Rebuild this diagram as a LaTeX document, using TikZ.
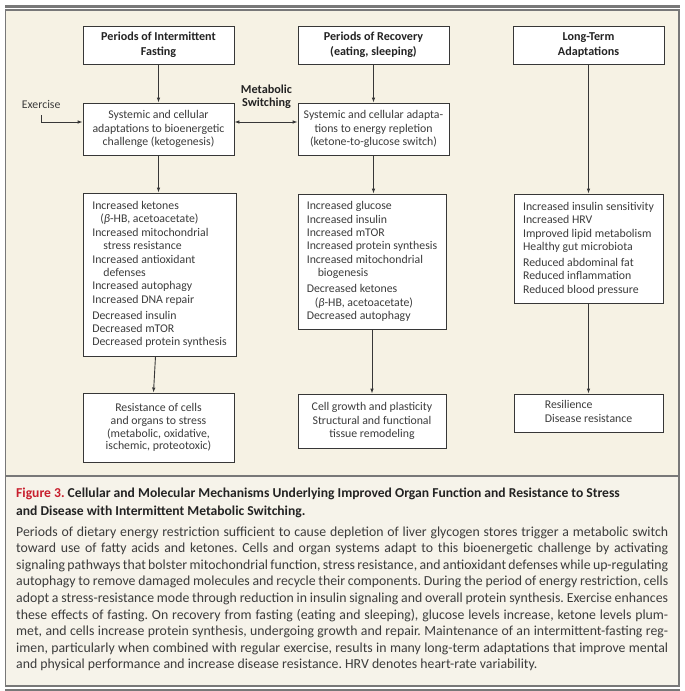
\documentclass[tikz,border=0pt]{standalone}
\usepackage{fontspec}
\setmainfont{Carlito}
\usetikzlibrary{arrows.meta}
\definecolor{beigebg}{RGB}{246,242,228}
\definecolor{capbg}{RGB}{246,243,234}
\definecolor{framec}{RGB}{120,120,120}
\definecolor{boxc}{RGB}{55,55,55}
\definecolor{txtc}{RGB}{60,60,60}
\definecolor{titc}{RGB}{35,35,35}
\definecolor{figred}{RGB}{200,30,45}
\newcommand{\myreg}{\fontsize{11.8}{13.4}\selectfont}
\newcommand{\mybold}{\fontsize{12.1}{14.6}\selectfont\bfseries}
\newcommand{\mybody}{\frenchspacing\fontsize{13.8}{16.6}\selectfont}
\newcommand{\mytitle}{\frenchspacing\fontsize{13.6}{18}\selectfont\bfseries}
\newcommand{\ind}{\hspace*{11pt}}
\newcommand{\pind}{\hspace*{8pt}}
\begin{document}
\begin{tikzpicture}[x=1pt,y=-1pt,
  box/.style={draw=boxc, line width=0.9pt, fill=white, inner sep=0pt, text=txtc, font=\myreg, align=center},
  headbox/.style={box, font=\mybold, text=titc},
  listbox/.style={box, align=left},
  arr/.style={draw=boxc, line width=0.9pt, -{Latex[length=5pt,width=3.6pt]}},
  darr/.style={draw=boxc, line width=0.9pt, {Latex[length=5pt,width=3.6pt]}-{Latex[length=5pt,width=3.6pt]}},
  capline/.style={anchor=base west, inner sep=0pt, text=txtc, font=\mybody}
]
\useasboundingbox (0,0) rectangle (685,691);
% frame
\draw[framec, line width=2.2pt] (5,6.5) -- (680,6.5);
\fill[beigebg] (5.5,10) rectangle (679,476);
\fill[capbg] (5.5,476) rectangle (679,686);
\draw[framec, line width=1.4pt] (5.5,10) rectangle (679,686);
\draw[framec, line width=1.4pt] (5.5,476) -- (679,476);
\draw[framec, line width=2.2pt] (5,690) -- (680,690);

% header boxes
\node[headbox, minimum width=151pt, minimum height=38pt] (a1) at (158.5,45) {Periods of Intermittent\\Fasting};
\node[headbox, minimum width=151pt, minimum height=38pt] (b1) at (373.5,45) {Periods of Recovery\\(eating, sleeping)};
\node[headbox, minimum width=151pt, minimum height=38pt] (c1) at (588.5,45) {Long-Term\\Adaptations};

% second row
\node[box, minimum width=151pt, minimum height=52pt] (a2) at (158.5,129) {Systemic and cellular\\adaptations to bioenergetic\\challenge (ketogenesis)};
\node[box, minimum width=151pt, minimum height=52pt] (b2) at (373.5,129) {Systemic and cellular adapta-\\tions to energy repletion\\(ketone-to-glucose switch)};

% list boxes
\node[listbox, minimum width=153pt, minimum height=163pt] (a3) at (159.5,274.5) {Increased ketones\\
\pind(\textit{β}-HB, acetoacetate)\\
Increased mitochondrial\\
\ind stress resistance\\
Increased antioxidant\\
\ind defenses\\
Increased autophagy\\
Increased DNA repair\\[2.5pt]
Decreased insulin\\
Decreased mTOR\\
Decreased protein synthesis};
\node[listbox, minimum width=148pt, minimum height=135pt] (b3) at (372,261.5) {Increased glucose\\
Increased insulin\\
Increased mTOR\\
Increased protein synthesis\\
Increased mitochondrial\\
\ind biogenesis\\[2.5pt]
Decreased ketones\\
\pind(\textit{β}-HB, acetoacetate)\\
Decreased autophagy};
\node[listbox, minimum width=149pt, minimum height=109pt] (c3) at (588.5,248.5) {Increased insulin sensitivity\\
Increased HRV\\
Improved lipid metabolism\\
Healthy gut microbiota\\[2.5pt]
Reduced abdominal fat\\
Reduced inflammation\\
Reduced blood pressure};

% result boxes
\node[box, minimum width=151pt, minimum height=69pt, font=\fontsize{11.8}{12.8}\selectfont] (a4) at (158.5,427.5) {Resistance of cells\\and organs to stress\\(metabolic, oxidative,\\ischemic, proteotoxic)};
\node[box, minimum width=148pt, minimum height=54pt] (b4) at (372,421) {Cell growth and plasticity\\Structural and functional\\tissue remodeling};
\node[box, minimum width=149pt, minimum height=38pt] (c4) at (588.5,413) {\begin{tabular}{@{}l@{}}Resilience\\Disease resistance\end{tabular}};

% labels
\node[inner sep=0pt, font=\fontsize{12.2}{13.3}\selectfont\bfseries, text=titc, align=center] (ms) at (266.5,96.5) {Metabolic\\Switching};
\node[inner sep=0pt, font=\myreg, text=txtc] (ex) at (41.2,104) {Exercise};
\coordinate (exs) at (41,115);
\coordinate (swy) at (0,122);

% connectors
\draw[arr] (a1.south) -- (a2.north);
\draw[arr] (b1.south) -- (b2.north);
\draw[arr] (c1.south) -- (c3.north -| c1.south);
\draw[arr] (a2.south) -- (a3.north -| a2.south);
\draw[arr] (b2.south) -- (b3.north -| b2.south);
\draw[arr] ([xshift=-4pt]a3.south) -- ([xshift=-5pt]a4.north);
\draw[arr] (b3.south) -- (b4.north);
\draw[arr] (c3.south) -- (c4.north);
\draw[darr] (a2.east |- swy) -- (b2.west |- swy);
\draw[arr] (exs) |- (a2.west |- swy);

% caption
\node[capline, font=\mytitle, text=titc] (cap1) at (16,497) {\textcolor{figred}{Figure 3.} Cellular and Molecular Mechanisms Underlying Improved Organ Function and Resistance to Stress};
\node[capline, font=\mytitle, text=titc] (cap2) at (16,515) {and Disease with Intermittent Metabolic Switching.};
\node[capline] (l1) at (16,536) {\makebox[652pt][s]{Periods of dietary energy restriction sufficient to cause depletion of liver glycogen stores trigger a metabolic switch}};
\node[capline] (l2) at (16,552.6) {\makebox[652pt][s]{toward use of fatty acids and ketones. Cells and organ systems adapt to this bioenergetic challenge by activating}};
\node[capline] (l3) at (16,569.2) {\makebox[652pt][s]{signaling pathways that bolster mitochondrial function, stress resistance, and antioxidant defenses while up-regulating}};
\node[capline] (l4) at (16,585.8) {\makebox[652pt][s]{autophagy to remove damaged molecules and recycle their components. During the period of energy restriction, cells}};
\node[capline] (l5) at (16,602.4) {\makebox[652pt][s]{adopt a stress-resistance mode through reduction in insulin signaling and overall protein synthesis. Exercise enhances}};
\node[capline] (l6) at (16,619) {\makebox[652pt][s]{these effects of fasting. On recovery from fasting (eating and sleeping), glucose levels increase, ketone levels plum-}};
\node[capline] (l7) at (16,635.6) {\makebox[652pt][s]{met, and cells increase protein synthesis, undergoing growth and repair. Maintenance of an intermittent-fasting reg-}};
\node[capline] (l8) at (16,652.2) {\makebox[652pt][s]{imen, particularly when combined with regular exercise, results in many long-term adaptations that improve mental}};
\node[capline] (l9) at (16,668.8) {and physical performance and increase disease resistance. HRV denotes heart-rate variability.};
\end{tikzpicture}
\end{document}
